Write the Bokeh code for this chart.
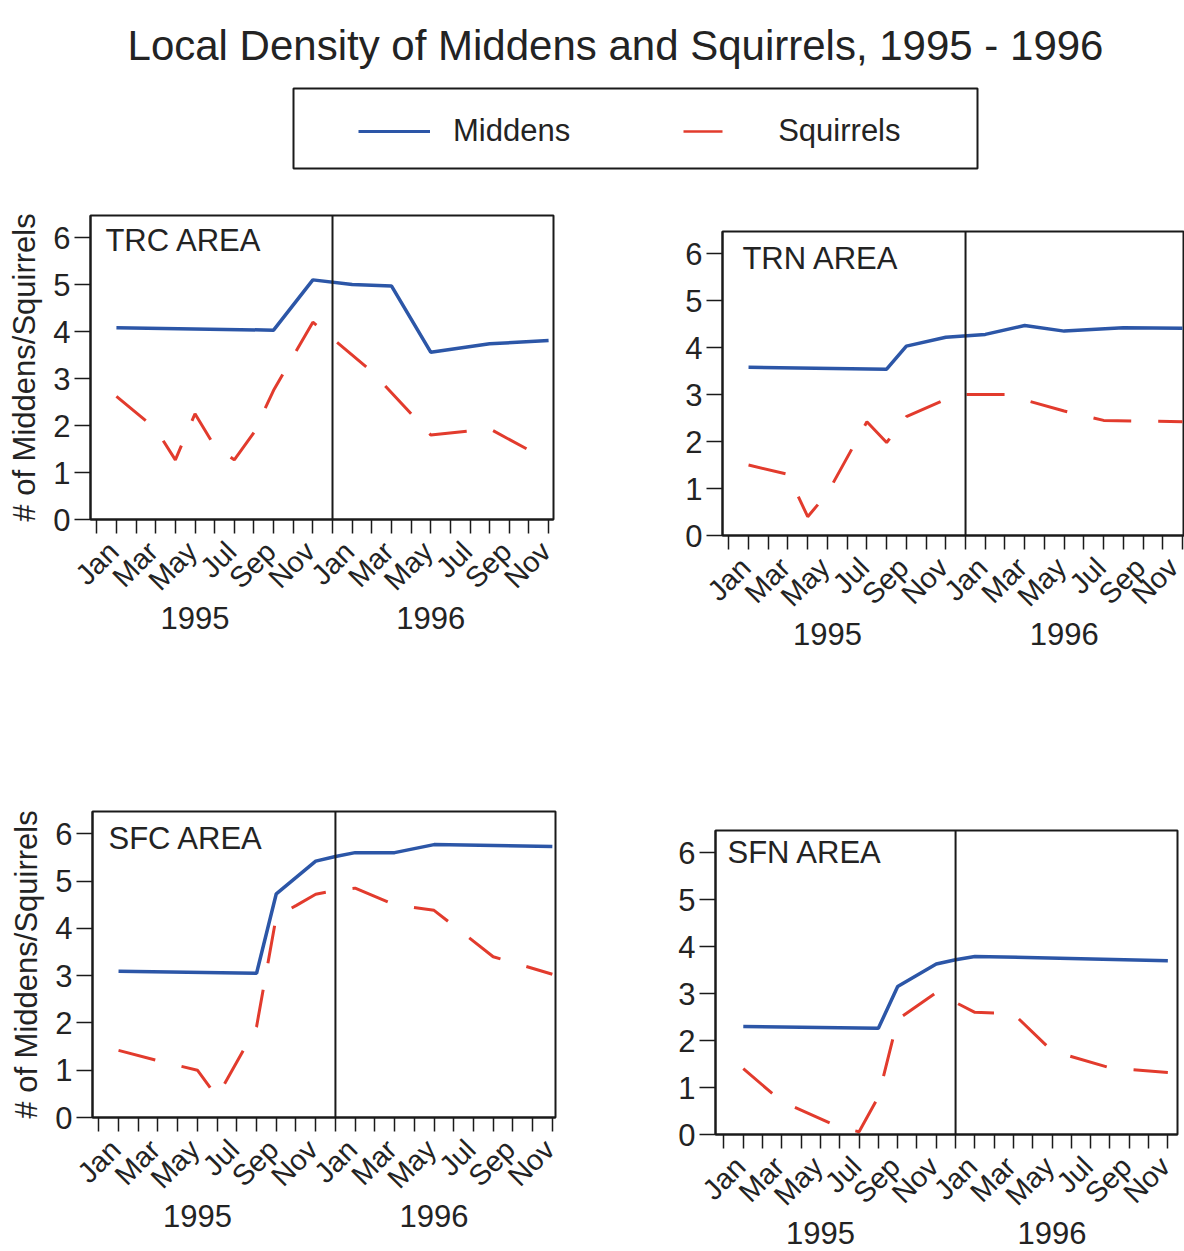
import math
from bokeh.plotting import figure
from bokeh.models import (Range1d, FixedTicker, LinearAxis, Span, Label, Legend,
                          LegendItem, BoxAnnotation)
from bokeh.layouts import column, row
from bokeh.embed import file_html
from bokeh.resources import INLINE

# ---------------- data ----------------
TITLE = "Local Density of Middens and Squirrels, 1995 - 1996"
SERIES = ["Middens", "Squirrels"]
MONTH_LABELS = ["Jan", "Mar", "May", "Jul", "Sep", "Nov"]   # every other month
YEARS = ["1995", "1996"]
Y_TICKS = [0, 1, 2, 3, 4, 5, 6]
Y_LABEL = "# of Middens/Squirrels"
# month index: 0 = Jan 1995 ... 23 = Dec 1996

trc_mid_x = [1, 9, 11, 13, 15, 17, 20, 23]
trc_mid_y = [4.08, 4.03, 5.10, 5.00, 4.97, 3.56, 3.74, 3.81]
trc_sq_x = [1, 3, 4, 5, 6, 7, 8, 9, 11, 14, 17, 20, 23]
trc_sq_y = [2.62, 1.93, 1.27, 2.25, 1.56, 1.27, 1.85, 2.75, 4.20, 3.15, 1.80, 1.93, 1.25]

trn_mid_x = [1, 8, 9, 11, 13, 15, 17, 20, 23]
trn_mid_y = [3.58, 3.54, 4.03, 4.22, 4.28, 4.47, 4.35, 4.42, 4.41]
trn_sq_x = [1, 3, 4, 5, 7, 8, 9, 11, 12, 14, 17, 19, 23]
trn_sq_y = [1.50, 1.30, 0.40, 0.90, 2.42, 1.98, 2.53, 2.90, 3.00, 3.00, 2.65, 2.45, 2.42]

sfc_mid_x = [1, 8, 9, 11, 12, 13, 15, 17, 23]
sfc_mid_y = [3.09, 3.05, 4.73, 5.42, 5.52, 5.60, 5.60, 5.77, 5.73]
sfc_sq_x = [1, 3, 5, 6, 8, 9, 10, 11, 12, 13, 15, 17, 20, 23]
sfc_sq_y = [1.42, 1.20, 1.00, 0.43, 1.92, 4.25, 4.48, 4.72, 4.80, 4.85, 4.50, 4.38, 3.40, 3.03]

sfn_mid_x = [1, 8, 9, 11, 12, 13, 23]
sfn_mid_y = [2.30, 2.26, 3.15, 3.63, 3.72, 3.79, 3.70]
sfn_sq_x = [1, 3, 6, 7, 8, 9, 11, 13, 15, 17, 20, 23]
sfn_sq_y = [1.40, 0.70, 0.15, 0.06, 0.80, 2.45, 3.02, 2.60, 2.57, 1.78, 1.42, 1.32]

PANELS = ["TRC AREA", "TRN AREA", "SFC AREA", "SFN AREA"]

# ---------------- style ----------------
FONT = "Liberation Sans"
TXT = "#232323"
INK = "#1a1a1a"
BLUE = "#2c56a7"
RED = "#e23b2d"
DASH = "38 27"
LABEL_SHIFT = 0.85   # rotated month labels are centred under their tick


def style_axis(ax):
    ax.axis_line_color = INK
    ax.axis_line_width = 2
    ax.major_tick_in = 0
    ax.major_tick_line_width = 1.5
    ax.major_tick_line_color = INK
    ax.minor_tick_line_color = None
    ax.major_label_text_font = FONT
    ax.major_label_text_color = TXT


def make_panel(name, mx, my, sx, sy, width, height, bl, br, bt, bb,
               xs, xe, show_ylabel, lx, ly):
    p = figure(width=width, height=height, x_range=Range1d(xs, xe),
               y_range=Range1d(0, 6.47), output_backend="svg",
               toolbar_location=None, x_axis_type=None, y_axis_type=None,
               min_border_left=bl, min_border_right=br,
               min_border_top=bt, min_border_bottom=bb)
    p.frame_align = False
    p.outline_line_color = INK
    p.outline_line_width = 2
    p.outline_line_alpha = 1
    p.background_fill_color = "white"
    p.border_fill_color = "white"

    # y axis
    yax = LinearAxis(ticker=FixedTicker(ticks=Y_TICKS))
    style_axis(yax)
    yax.major_tick_out = 16
    yax.major_label_text_font_size = "31px"
    yax.major_label_standoff = 4
    if show_ylabel:
        yax.axis_label = Y_LABEL
        yax.axis_label_text_font = FONT
        yax.axis_label_text_font_size = "31px"
        yax.axis_label_text_font_style = "normal"
        yax.axis_label_text_color = TXT
        yax.axis_label_standoff = 8
    p.add_layout(yax, "left")

    # monthly tick marks
    tick_ax = LinearAxis(ticker=FixedTicker(ticks=list(range(24))),
                         major_label_overrides={i: "" for i in range(24)})
    style_axis(tick_ax)
    tick_ax.major_tick_out = 14
    tick_ax.major_label_text_font_size = "1px"
    tick_ax.major_label_standoff = 0
    p.add_layout(tick_ax, "below")

    # month names (every other month), rotated
    pos, over = [], {}
    for yr in range(2):
        for j, lab in enumerate(MONTH_LABELS):
            t = round(yr * 12 + 2 * j + LABEL_SHIFT, 2)
            pos.append(t)
            over[t] = lab
    lab_ax = LinearAxis(ticker=FixedTicker(ticks=pos), major_label_overrides=over,
                        major_label_orientation=math.pi / 4)
    style_axis(lab_ax)
    lab_ax.axis_line_color = None
    lab_ax.major_tick_line_color = None
    lab_ax.major_tick_out = 0
    lab_ax.major_label_text_font_size = "29px"
    lab_ax.major_label_standoff = 13
    p.add_layout(lab_ax, "below")

    # year labels
    yr_ax = LinearAxis(ticker=FixedTicker(ticks=[5, 17]),
                       major_label_overrides={5: YEARS[0], 17: YEARS[1]})
    style_axis(yr_ax)
    yr_ax.axis_line_color = None
    yr_ax.major_tick_line_color = None
    yr_ax.major_tick_out = 0
    yr_ax.major_label_text_font_size = "31px"
    yr_ax.major_label_standoff = -4
    p.add_layout(yr_ax, "below")

    p.add_layout(Span(location=12, dimension="height", line_color=INK,
                      line_width=2))

    p.line(mx, my, line_color=BLUE, line_width=3.5)
    p.line(sx, sy, line_color=RED, line_width=3, line_dash=DASH)

    p.add_layout(Label(x=lx, y=ly, text=name, text_font=FONT,
                       text_font_size="31px", text_color=TXT,
                       text_baseline="middle", text_align="left"))
    return p


# ---------------- header (title + legend) ----------------
HW, HH = 1184, 180
h = figure(width=HW, height=HH, x_range=Range1d(0, HW), y_range=Range1d(0, HH),
           output_backend="svg", toolbar_location=None,
           x_axis_type=None, y_axis_type=None, min_border=0)
h.outline_line_color = None
h.background_fill_color = "white"
h.border_fill_color = "white"

h.add_layout(Label(x=615, y=135, text=TITLE, text_font=FONT,
                   text_font_size="42px", text_color=TXT,
                   text_align="center", text_baseline="middle"))

# legend swatches (kept outside the visible range of the header)
r_mid = h.line(x=[-100, -90], y=[-100, -100], line_color=BLUE, line_width=3)
r_sq = h.line(x=[-100, -90], y=[-100, -100], line_color=RED, line_width=2.5,
              line_dash="39 40")
legend = Legend(items=[LegendItem(label=SERIES[0], renderers=[r_mid]),
                       LegendItem(label=SERIES[1], renderers=[r_sq])],
                orientation="horizontal", location=(358, 31),
                padding=0, margin=0, spacing=113, glyph_width=72,
                glyph_height=36, label_height=36, label_standoff=23,
                label_text_font=FONT, label_text_font_size="31px",
                label_text_color=TXT, border_line_color=None,
                background_fill_alpha=0)
h.add_layout(legend)
h.add_layout(BoxAnnotation(left=293, right=977, bottom=12, top=92,
                           fill_alpha=0, line_color=INK, line_alpha=1,
                           line_width=2))

# ---------------- panels ----------------
p1 = make_panel(PANELS[0], trc_mid_x, trc_mid_y, trc_sq_x, trc_sq_y,
                640, 500, 90, 87, 35, 161, -0.32, 23.25, True, 0.44, 5.94)
p2 = make_panel(PANELS[1], trn_mid_x, trn_mid_y, trn_sq_x, trn_sq_y,
                544, 500, 82, 0, 51, 145, -0.32, 23.1, False, 0.69, 5.9)
p3 = make_panel(PANELS[2], sfc_mid_x, sfc_mid_y, sfc_sq_x, sfc_sq_y,
                640, 570, 92, 85, 131, 133, -0.32, 23.16, True, 0.49, 5.9)
p4 = make_panel(PANELS[3], sfn_mid_x, sfn_mid_y, sfn_sq_x, sfn_sq_y,
                544, 570, 75, 7, 150, 116, -0.44, 23.5, False, 0.18, 6.0)

layout = column(h, row(p1, p2), row(p3, p4))
open("out.html", "w").write(file_html(layout, INLINE))
